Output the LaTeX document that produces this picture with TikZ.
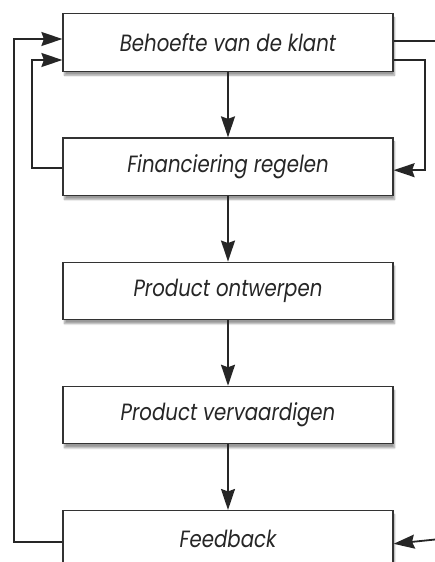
\documentclass[tikz,border=0pt]{standalone}
\usepackage{fontspec}
\newfontfamily\boxfont{Poppins}[FakeStretch=0.84]
\usepackage{tikz}
\usetikzlibrary{arrows.meta,calc,positioning,shadows.blur}

\begin{document}
\begin{tikzpicture}[x=1pt,y=1pt,
    stap/.style={draw=black!80, line width=1.2pt, fill=white,
        minimum width=330pt, minimum height=57.5pt, inner sep=0pt,
        text=black!85, font=\boxfont\itshape\fontsize{23.5}{26}\selectfont,
        blur shadow={shadow xshift=1.5pt, shadow yshift=-4pt,
            shadow blur steps=6, shadow opacity=40}},
    pijl/.style={line width=1.8pt, black!85,
        -{Stealth[length=21pt,width=14pt,inset=2.5pt]}},
    lijn/.style={line width=1.8pt, black!85}]
    \useasboundingbox (0,0) rectangle (434,-562);
    %%stappen
    \node[stap] (klant) at (228,-42.5) {Behoefte van de klant};
    \node[stap, below=65.5pt of klant] (financiering) {Financiering regelen};
    \node[stap, below=65.5pt of financiering] (ontwerpen) {Product ontwerpen};
    \node[stap, below=65.5pt of ontwerpen] (vervaardigen) {Product vervaardigen};
    \node[stap, below=65.5pt of vervaardigen] (feedback) {Feedback};
    %%pijlen omlaag
    \draw[pijl] (klant) -- (financiering);
    \draw[pijl] (financiering) -- (ontwerpen);
    \draw[pijl] (ontwerpen) -- (vervaardigen);
    \draw[pijl] (vervaardigen) -- (feedback);
    %%terugkoppeling links
    \coordinate (kin1) at ($(klant.west)+(0,3.5)$);
    \coordinate (kin2) at ($(klant.west)+(0,-17.5)$);
    \draw[pijl] ($(feedback.west)+(0,-2.5)$) -| (14,-300) |- (kin1);
    \draw[pijl] ($(financiering.west)+(0,-1.5)$) -| (32,-100) |- (kin2);
    %%terugkoppeling rechts
    \coordinate (kuit2) at ($(klant.east)+(0,-17.5)$);
    \coordinate (rand1) at (440,-41);
    \coordinate (rand2) at (440,-539);
    \draw[lijn] ($(klant.east)+(0,1.5)$) -- (rand1);
    \draw[pijl] (kuit2) -| (425,-100) |- ($(financiering.east)+(0,-3.5)$);
    \draw[pijl] (rand2) -- ($(feedback.east)+(0,-4.5)$);
\end{tikzpicture}
\end{document}
